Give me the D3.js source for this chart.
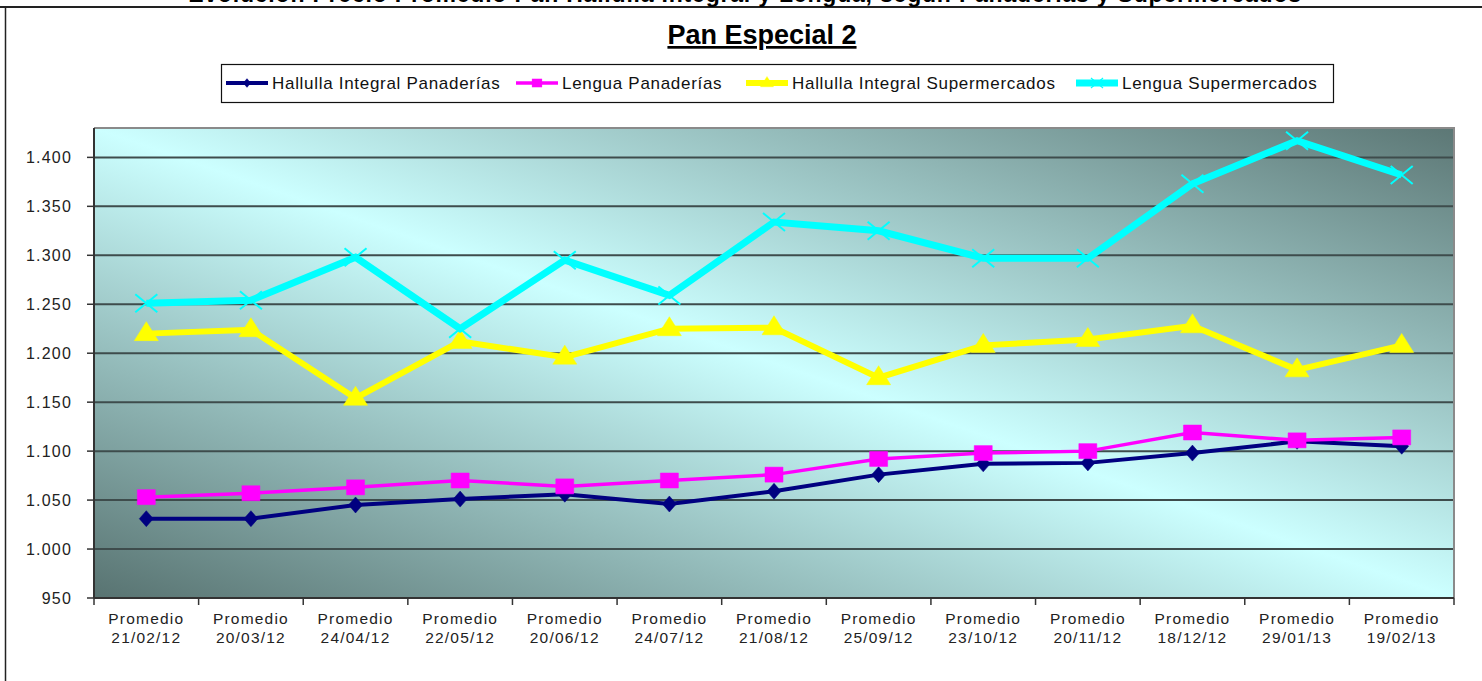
<!DOCTYPE html>
<html>
<head>
<meta charset="utf-8">
<script src="https://cdn.jsdelivr.net/npm/d3@7"></script>
<style>
  body { margin: 0; background: #fff; }
  svg { display: block; font-family: "Liberation Sans", Arial, sans-serif; }
</style>
</head>
<body>
<svg id="chart" width="1482" height="681"></svg>
<script>
// fechas de medición
const categories = ["21/02/12","20/03/12","24/04/12","22/05/12","20/06/12","24/07/12","21/08/12",
                    "25/09/12","23/10/12","20/11/12","18/12/12","29/01/13","19/02/13"];

const halIntPan = [1031, 1031, 1045, 1051, 1056, 1046, 1059, 1076, 1087, 1088, 1098, 1110, 1105];
const lenguaPan = [1053, 1057, 1063, 1070, 1064, 1070, 1076, 1092, 1098, 1100, 1119, 1111, 1114];
const halIntSup = [1220, 1224, 1154, 1212, 1196, 1225, 1226, 1175, 1208, 1214, 1228, 1183, 1208];
const lenguaSup = [1251, 1254, 1298, 1225, 1295, 1259, 1334, 1325, 1297, 1297, 1373, 1417, 1382];

const seriesNames = ["Hallulla Integral Panaderías","Lengua Panaderías","Hallulla Integral Supermercados","Lengua Supermercados"];
const yTicks = [950, 1000, 1050, 1100, 1150, 1200, 1250, 1300, 1350, 1400];

const series = [
  { name: seriesNames[0], values: halIntPan, color: "#000080", width: 4,   marker: "diamond" },
  { name: seriesNames[1], values: lenguaPan, color: "#ff00ff", width: 3.5, marker: "square" },
  { name: seriesNames[2], values: halIntSup, color: "#ffff00", width: 6,   marker: "triangle" },
  { name: seriesNames[3], values: lenguaSup, color: "#00ffff", width: 7,   marker: "cross" }
];

const svg = d3.select("#chart");
const pLeft = 94, pRight = 1454, pTop = 128, pBottom = 598;

const x = d3.scaleBand().domain(categories).range([pLeft, pRight]).padding(0);
const y = d3.scaleLinear().domain([950, 1430]).range([pBottom, pTop]);
const es = d3.formatLocale({ decimal: ",", thousands: ".", grouping: [3], currency: ["$", ""] });
const fmt = es.format(",");

// marco exterior
svg.append("line").attr("x1", 0).attr("x2", 1482).attr("y1", 7).attr("y2", 7)
   .attr("stroke", "#222").attr("stroke-width", 2);
svg.append("line").attr("x1", 5.5).attr("x2", 5.5).attr("y1", 7).attr("y2", 681)
   .attr("stroke", "#222").attr("stroke-width", 1.5);

// titulo general (cortado arriba, como en la imagen)
svg.append("text").attr("x", 745).attr("y", 2)
   .attr("text-anchor", "middle").attr("font-weight", "bold").attr("font-size", 23)
   .attr("letter-spacing", 0.8)
   .text("Evolución Precio Promedio Pan Hallulla Integral y Lengua, según Panaderías y Supermercados");

svg.append("text").attr("x", 762).attr("y", 44)
   .attr("text-anchor", "middle").attr("font-weight", "bold").attr("font-size", 27)
   .attr("text-decoration", "underline")
   .text("Pan Especial 2");

// fondo degradado
const defs = svg.append("defs");
const grad = defs.append("linearGradient").attr("id", "bg")
  .attr("x1", 0).attr("y1", 1).attr("x2", 1).attr("y2", 0);
grad.append("stop").attr("offset", "0%").attr("stop-color", "#587371");
grad.append("stop").attr("offset", "50%").attr("stop-color", "#ccffff");
grad.append("stop").attr("offset", "100%").attr("stop-color", "#5c7775");

svg.append("rect").attr("x", pLeft).attr("y", pTop).attr("width", pRight - pLeft).attr("height", pBottom - pTop)
   .attr("fill", "url(#bg)");

// grilla
svg.append("g").selectAll("line").data(yTicks.filter(d => d > 950)).join("line")
   .attr("x1", pLeft).attr("x2", pRight).attr("y1", d => y(d)).attr("y2", d => y(d))
   .attr("stroke", "#3e4c4c").attr("stroke-width", 2);

// borde
svg.append("polyline")
   .attr("points", `${pLeft},${pTop} ${pRight},${pTop} ${pRight},${pBottom}`)
   .attr("fill", "none").attr("stroke", "#8a8a8a").attr("stroke-width", 2);

// eje Y
const yAxis = svg.append("g");
yAxis.append("line").attr("x1", pLeft).attr("x2", pLeft).attr("y1", pTop).attr("y2", pBottom)
   .attr("stroke", "#333").attr("stroke-width", 2);
yAxis.selectAll("line.t").data(yTicks).join("line").attr("class", "t")
   .attr("x1", pLeft - 7).attr("x2", pLeft).attr("y1", d => y(d)).attr("y2", d => y(d))
   .attr("stroke", "#333").attr("stroke-width", 1.5);
yAxis.selectAll("text").data(yTicks).join("text")
   .attr("x", 72).attr("y", d => y(d) + 6).attr("text-anchor", "end")
   .attr("font-size", 16).attr("letter-spacing", 1.2).attr("fill", "#222")
   .text(d => fmt(d));

// eje X
const xAxis = svg.append("g");
xAxis.append("line").attr("x1", pLeft).attr("x2", pRight).attr("y1", pBottom).attr("y2", pBottom)
   .attr("stroke", "#333").attr("stroke-width", 2);
const bounds = categories.map(c => x(c)).concat([x(categories[categories.length - 1]) + x.bandwidth()]);
xAxis.selectAll("line.t").data(bounds).join("line").attr("class", "t")
   .attr("x1", d => d).attr("x2", d => d).attr("y1", pBottom).attr("y2", pBottom + 7)
   .attr("stroke", "#333").attr("stroke-width", 1.5);
const xl = xAxis.selectAll("text").data(categories).join("text")
   .attr("text-anchor", "middle").attr("font-size", 15.5).attr("letter-spacing", 1.2).attr("fill", "#222");
xl.append("tspan").attr("x", d => x(d) + x.bandwidth() / 2).attr("y", 624).text("Promedio");
xl.append("tspan").attr("x", d => x(d) + x.bandwidth() / 2).attr("y", 643).text(d => d);

// marcadores
function markerPath(type, cx, cy) {
  const p = d3.path();
  if (type === "diamond") {
    p.moveTo(cx, cy - 8); p.lineTo(cx + 7, cy); p.lineTo(cx, cy + 8); p.lineTo(cx - 7, cy); p.closePath();
  } else if (type === "square") {
    p.rect(cx - 9, cy - 7.5, 18, 15);
  } else if (type === "triangle") {
    p.moveTo(cx, cy - 12); p.lineTo(cx + 12, cy + 7); p.lineTo(cx - 12, cy + 7); p.closePath();
  } else {
    p.moveTo(cx - 11, cy - 9); p.lineTo(cx + 11, cy + 9);
    p.moveTo(cx + 11, cy - 9); p.lineTo(cx - 11, cy + 9);
  }
  return p.toString();
}

const line = d3.line().x((d, i) => x(categories[i]) + x.bandwidth() / 2).y(d => y(d));

series.forEach(s => {
  const g = svg.append("g");
  g.append("path").attr("d", line(s.values)).attr("fill", "none")
   .attr("stroke", s.color).attr("stroke-width", s.width).attr("stroke-linejoin", "miter");
  g.selectAll("path.m").data(s.values).join("path").attr("class", "m")
   .attr("d", (d, i) => markerPath(s.marker, x(categories[i]) + x.bandwidth() / 2, y(d)))
   .attr("fill", s.marker === "cross" ? "none" : s.color)
   .attr("stroke", s.color).attr("stroke-width", s.marker === "cross" ? 2 : 0.5);
});

// leyenda
svg.append("rect").attr("x", 221.5).attr("y", 64.5).attr("width", 1112).attr("height", 38)
   .attr("fill", "#fff").attr("stroke", "#111").attr("stroke-width", 1.2);
const legX = [226, 516, 746, 1076];
series.forEach((s, i) => {
  const g = svg.append("g").attr("transform", `translate(${legX[i]},83)`);
  g.append("line").attr("x1", 0).attr("x2", 42).attr("y1", 0).attr("y2", 0)
   .attr("stroke", s.color).attr("stroke-width", s.width);
  g.append("path").attr("d", markerPath(s.marker, 21, 0))
   .attr("fill", s.marker === "cross" ? "none" : s.color)
   .attr("stroke", s.color).attr("stroke-width", s.marker === "cross" ? 2 : 0.5)
   .attr("transform", "translate(21,0) scale(0.55) translate(-21,0)");
  g.append("text").attr("x", 46).attr("y", 6).attr("font-size", 17).attr("letter-spacing", 0.7)
   .attr("fill", "#111").text(s.name);
});
</script>
</body>
</html>
